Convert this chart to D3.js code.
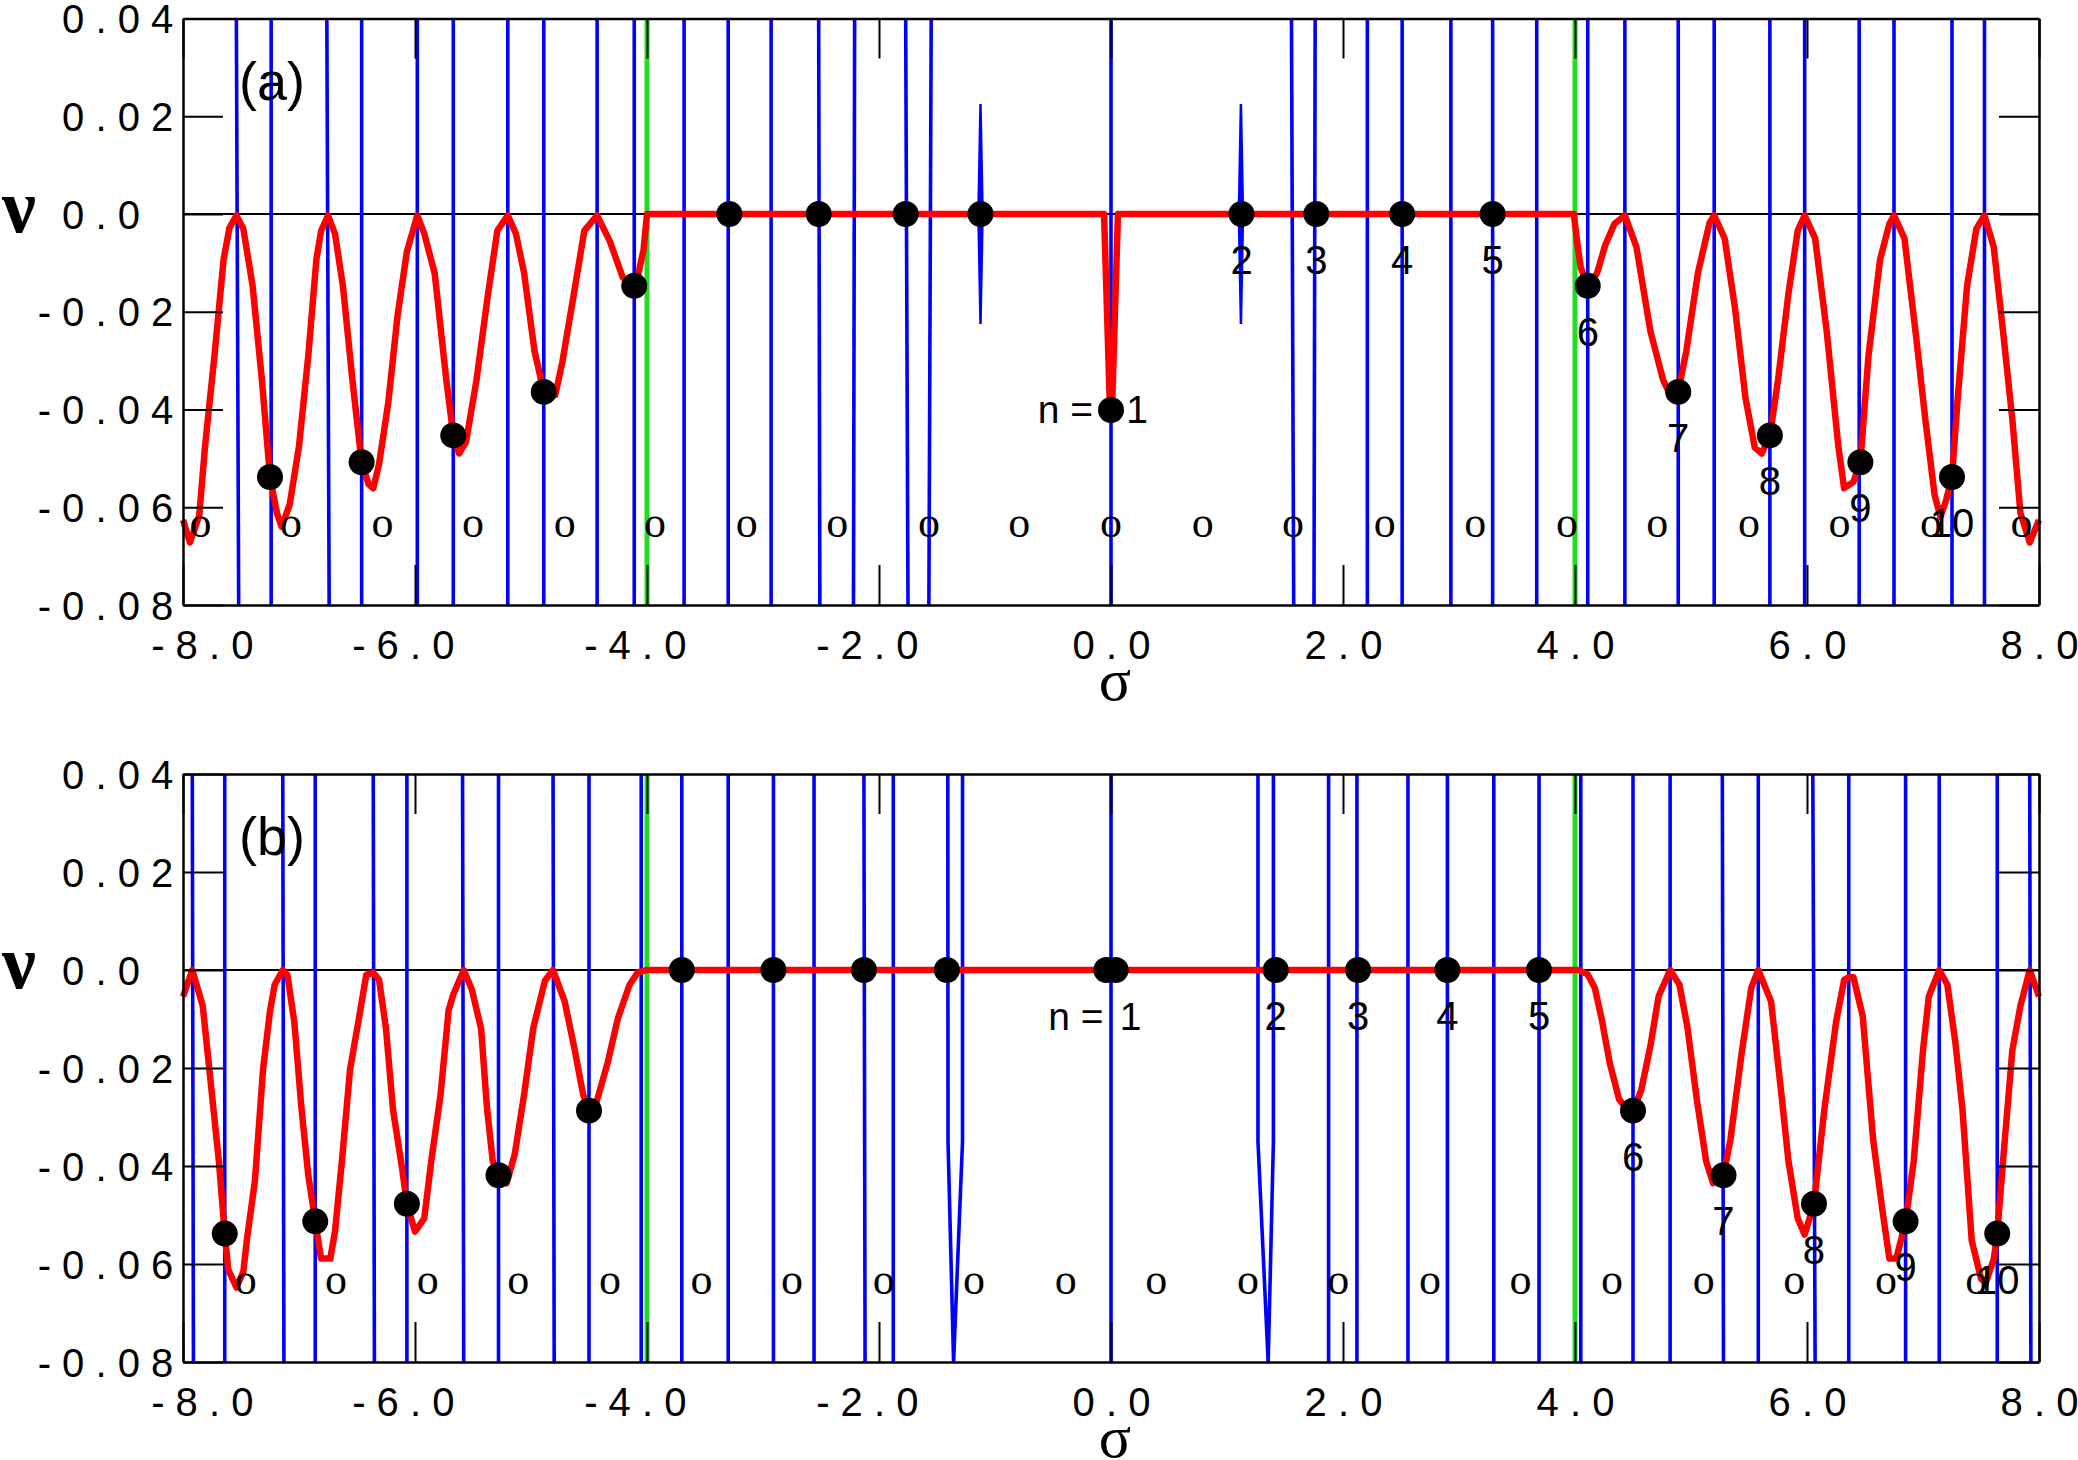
<!DOCTYPE html>
<html>
<head>
<meta charset="utf-8">
<script src="https://cdnjs.cloudflare.com/ajax/libs/d3/7.8.5/d3.min.js"></script>
<style>
  body { margin: 0; background: #fff; }
  svg { display: block; }
</style>
</head>
<body>
<svg width="2078" height="1460"></svg>
<script>
// **** data ****

var xTicks = [-8, -6, -4, -2, 0, 2, 4, 6, 8];
var xTickLabels = ["- 8 . 0", "- 6 . 0", "- 4 . 0", "- 2 . 0", "0 . 0", "2 . 0", "4 . 0", "6 . 0", "8 . 0"];
var yTicks = [0.04, 0.02, 0, -0.02, -0.04, -0.06, -0.08];
var yTickLabels = ["0 . 0 4", "0 . 0 2", "0 . 0", "- 0 . 0 2", "- 0 . 0 4", "- 0 . 0 6", "- 0 . 0 8"];

var greenLines = [-4.0, 4.0];

// blue near-vertical branches: [sigma at top, sigma at bottom]
var blueA = [[-7.54, -7.52], [-7.24, -7.24], [-6.76, -6.74], [-6.46, -6.46], [-5.98, -5.98],
  [-5.67, -5.67], [-5.20, -5.20], [-4.89, -4.89], [-4.43, -4.43], [-4.11, -4.11], [-3.68, -3.68],
  [-3.30, -3.30], [-2.93, -2.93], [-2.52, -2.51], [-2.21, -2.22], [-1.77, -1.75], [-1.55, -1.57],
  [0, 0], [1.556, 1.575], [1.76, 1.75], [2.21, 2.21], [2.51, 2.51], [2.93, 2.93], [3.29, 3.29],
  [3.67, 3.67], [4.11, 4.11], [4.43, 4.43], [4.89, 4.89], [5.20, 5.20], [5.68, 5.68], [5.98, 5.98],
  [6.45, 6.45], [6.75, 6.75], [7.25, 7.25], [7.53, 7.53]];

var blueB = [[-7.92, -7.91], [-7.64, -7.64], [-7.14, -7.13], [-6.86, -6.86], [-6.36, -6.35],
  [-6.07, -6.07], [-5.59, -5.58], [-5.28, -5.28], [-4.81, -4.80], [-4.50, -4.50], [-4.05, -4.05],
  [-3.70, -3.70], [-3.30, -3.30], [-2.91, -2.91], [-2.56, -2.56], [-2.13, -2.12], [-1.877, -1.877],
  [0, 0], [1.876, 1.876], [2.12, 2.12], [2.56, 2.56], [2.90, 2.90], [3.30, 3.30], [3.69, 3.69],
  [4.05, 4.05], [4.50, 4.50], [4.82, 4.82], [5.27, 5.28], [5.58, 5.58], [6.05, 6.07], [6.36, 6.36],
  [6.85, 6.85], [7.14, 7.14], [7.64, 7.64], [7.92, 7.93]];

// short blue spindles of panel (a): [sigma, half height]
var spindlesA = [[-1.125, 0.0225], [1.12, 0.0225]];

// V shaped blue branches of panel (b)
var vShapesB = [
  [[-1.407, 0.04], [-1.405, -0.035], [-1.357, -0.08], [-1.28, -0.035], [-1.28, 0.04]],
  [[1.267, 0.04], [1.267, -0.035], [1.355, -0.08], [1.40, -0.035], [1.40, 0.04]]
];

// red curves [sigma, nu]
var redA = [[-8.0, -0.0626], [-7.94, -0.0672], [-7.86, -0.0617], [-7.81, -0.0475], [-7.73, -0.0293],
  [-7.65, -0.0093], [-7.60, -0.0029], [-7.54, -0.0003], [-7.48, -0.003], [-7.40, -0.0147],
  [-7.32, -0.0339], [-7.25, -0.0538], [-7.19, -0.0612], [-7.15, -0.064], [-7.08, -0.0594],
  [-7.00, -0.0475], [-6.92, -0.029], [-6.85, -0.0093], [-6.81, -0.0035], [-6.75, -0.0003],
  [-6.69, -0.004], [-6.62, -0.015], [-6.54, -0.0339], [-6.46, -0.0508], [-6.40, -0.0553],
  [-6.36, -0.0561], [-6.31, -0.0512], [-6.23, -0.0385], [-6.15, -0.0207], [-6.07, -0.0077],
  [-5.98, -0.0003], [-5.92, -0.004], [-5.83, -0.0122], [-5.73, -0.034], [-5.67, -0.0453],
  [-5.62, -0.049], [-5.56, -0.0466], [-5.47, -0.034], [-5.37, -0.0163], [-5.29, -0.0034],
  [-5.20, -0.0003], [-5.13, -0.004], [-5.06, -0.012], [-4.97, -0.028], [-4.89, -0.0364],
  [-4.79, -0.037], [-4.73, -0.0303], [-4.63, -0.0163], [-4.54, -0.0034], [-4.43, -0.0003],
  [-4.32, -0.0056], [-4.21, -0.0129], [-4.13, -0.0147], [-4.08, -0.0128], [-4.03, -0.0074],
  [-4.0, 0], [-0.06, 0], [-0.01, -0.039], [0.01, -0.039], [0.06, 0], [3.99, 0],
  [4.02, -0.006], [4.05, -0.011], [4.11, -0.0147], [4.19, -0.0121], [4.26, -0.0064],
  [4.34, -0.002], [4.43, -0.0003], [4.53, -0.0068], [4.65, -0.024], [4.76, -0.034],
  [4.82, -0.037], [4.89, -0.0364], [4.96, -0.028], [5.06, -0.012], [5.16, -0.0018],
  [5.20, -0.0003], [5.29, -0.005], [5.38, -0.0194], [5.47, -0.0377], [5.55, -0.0478],
  [5.61, -0.049], [5.68, -0.0453], [5.75, -0.034], [5.84, -0.0163], [5.92, -0.0034],
  [5.98, -0.0003], [6.07, -0.005], [6.17, -0.024], [6.27, -0.0475], [6.32, -0.0561],
  [6.40, -0.0548], [6.46, -0.0508], [6.53, -0.029], [6.63, -0.0093], [6.71, -0.002],
  [6.75, -0.0003], [6.84, -0.005], [6.94, -0.025], [7.02, -0.042], [7.10, -0.0575],
  [7.15, -0.062], [7.20, -0.0585], [7.25, -0.0538], [7.30, -0.0375], [7.38, -0.0147],
  [7.46, -0.003], [7.53, -0.0003], [7.61, -0.0068], [7.69, -0.024], [7.77, -0.042],
  [7.84, -0.0612], [7.92, -0.0672], [8.0, -0.0626]];

var redB = [[-8.0, -0.0054], [-7.92, 0], [-7.83, -0.0073], [-7.75, -0.0255], [-7.69, -0.0392],
  [-7.64, -0.0538], [-7.61, -0.0611], [-7.54, -0.0648], [-7.48, -0.0616], [-7.45, -0.0552],
  [-7.38, -0.043], [-7.31, -0.0203], [-7.25, -0.0084], [-7.21, -0.003], [-7.14, 0],
  [-7.10, -0.001], [-7.04, -0.0107], [-6.98, -0.0279], [-6.92, -0.0419], [-6.86, -0.0513],
  [-6.81, -0.0589], [-6.73, -0.0589], [-6.69, -0.0534], [-6.63, -0.039], [-6.56, -0.0203],
  [-6.48, -0.0094], [-6.42, -0.001], [-6.36, -0.0005], [-6.31, -0.002], [-6.25, -0.012],
  [-6.19, -0.0284], [-6.11, -0.0407], [-6.07, -0.0477], [-6.0, -0.0534], [-5.92, -0.0507],
  [-5.86, -0.039], [-5.78, -0.0255], [-5.71, -0.0082], [-5.67, -0.005], [-5.58, 0],
  [-5.51, -0.004], [-5.43, -0.012], [-5.38, -0.028], [-5.33, -0.039], [-5.28, -0.0419],
  [-5.21, -0.0435], [-5.14, -0.0376], [-5.06, -0.0255], [-4.98, -0.0118], [-4.88, -0.0022],
  [-4.81, 0], [-4.71, -0.0064], [-4.63, -0.0155], [-4.55, -0.0255], [-4.50, -0.0287],
  [-4.45, -0.0282], [-4.34, -0.019], [-4.25, -0.0098], [-4.15, -0.003], [-4.08, -0.0005],
  [-4.0, 0], [4.03, 0], [4.11, -0.0009], [4.17, -0.0036], [4.23, -0.01], [4.30, -0.019],
  [4.38, -0.0264], [4.44, -0.0282], [4.50, -0.0287], [4.57, -0.0246], [4.65, -0.0155],
  [4.72, -0.0054], [4.82, 0], [4.90, -0.003], [4.97, -0.0118], [5.05, -0.0264], [5.13, -0.039],
  [5.19, -0.0435], [5.28, -0.0419], [5.34, -0.0346], [5.44, -0.0164], [5.52, -0.0036],
  [5.58, 0], [5.69, -0.0064], [5.78, -0.0255], [5.84, -0.039], [5.92, -0.0507], [5.98, -0.054],
  [6.06, -0.0477], [6.15, -0.0284], [6.25, -0.0107], [6.32, -0.002], [6.36, -0.0015],
  [6.40, -0.0015], [6.48, -0.0094], [6.57, -0.0346], [6.65, -0.049], [6.71, -0.0589],
  [6.77, -0.0589], [6.85, -0.0513], [6.92, -0.039], [7.0, -0.0164], [7.05, -0.0054],
  [7.14, 0], [7.21, -0.003], [7.28, -0.015], [7.34, -0.0284], [7.42, -0.0552], [7.50, -0.063],
  [7.54, -0.0639], [7.61, -0.059], [7.64, -0.0538], [7.69, -0.039], [7.77, -0.0164],
  [7.84, -0.0073], [7.92, 0], [8.0, -0.0054]];

// black dots and their labels
var dotSigmaA = [-7.25, -6.46, -5.67, -4.89, -4.11, -3.29, -2.52, -1.77, -1.125, 0,
  1.125, 1.77, 2.51, 3.29, 4.11, 4.89, 5.68, 6.46, 7.25];
var dotNuA = [-0.0538, -0.0508, -0.0453, -0.0364, -0.0147, 0, 0, 0, 0, -0.0401,
  0, 0, 0, 0, -0.0147, -0.0364, -0.0453, -0.0508, -0.0538];
var dotLabelA = ["", "", "", "", "", "", "", "", "", "1", "2", "3", "4", "5", "6", "7", "8", "9", "10"];

var dotSigmaB = [-7.64, -6.86, -6.07, -5.28, -4.50, -3.70, -2.91, -2.13, -1.415, -0.04,
  0.04, 1.42, 2.13, 2.90, 3.69, 4.50, 5.28, 6.06, 6.85, 7.64];
var dotNuB = [-0.0538, -0.0513, -0.0477, -0.0419, -0.0287, 0, 0, 0, 0, 0,
  0, 0, 0, 0, 0, -0.0287, -0.0419, -0.0477, -0.0513, -0.0538];
var dotLabelB = ["", "", "", "", "", "", "", "", "", "", "1", "2", "3", "4", "5", "6", "7", "8", "9", "10"];

// rows of "o" marks
var oNu = -0.064;
var oSigmaA = [-7.85, -7.07, -6.28, -5.50, -4.71, -3.93, -3.14, -2.36, -1.57, -0.79, 0,
  0.79, 1.57, 2.36, 3.14, 3.93, 4.71, 5.50, 6.28, 7.07, 7.85];
var oSigmaB = [-7.46, -6.68, -5.89, -5.11, -4.32, -3.53, -2.75, -1.96, -1.18, -0.39,
  0.39, 1.18, 1.96, 2.75, 3.53, 4.32, 5.11, 5.89, 6.68, 7.46];

var panelNames = ["(a)", "(b)"];

// **** drawing ****

var sans = "'Liberation Sans', Arial, Helvetica, sans-serif";
var serif = "'Liberation Serif', 'Times New Roman', serif";

var svg = d3.select("svg");
var xScale = d3.scaleLinear().domain([-8, 8]).range([183, 2039]);

var panels = [
  { top: 18.5, bottom: 605, name: panelNames[0], blue: blueA, red: redA,
    dotS: dotSigmaA, dotN: dotNuA, dotL: dotLabelA, oS: oSigmaA,
    nEq: { dx: -18, dy: 0, oneDx: 26 } },
  { top: 774, bottom: 1362, name: panelNames[1], blue: blueB, red: redB,
    dotS: dotSigmaB, dotN: dotNuB, dotL: dotLabelB, oS: oSigmaB,
    nEq: { dx: -12, dy: 47, oneDx: 15 } }
];

// put the decimal point of a label at the given x
function alignOnPoint(sel, px) {
  sel.attr("text-anchor", "start").each(function(d, i) {
    var s = this.textContent;
    var k = s.indexOf(".");
    var before = this.getSubStringLength(0, k);
    var w = this.getSubStringLength(k, 1);
    d3.select(this).attr("x", px(d, i) - before - w / 2);
  });
}

panels.forEach(function(p, pi) {
  var yScale = d3.scaleLinear().domain([-0.08, 0.04]).range([p.bottom, p.top]);
  var g = svg.append("g");

  // zero line
  g.append("line")
    .attr("x1", xScale(-8)).attr("x2", xScale(8))
    .attr("y1", yScale(0)).attr("y2", yScale(0))
    .attr("stroke", "#000").attr("stroke-width", 2);

  // blue branches
  g.selectAll(".blue").data(p.blue).enter().append("line")
    .attr("x1", function(d) { return xScale(d[0]); })
    .attr("y1", yScale(0.04))
    .attr("x2", function(d) { return xScale(d[1]); })
    .attr("y2", yScale(-0.08))
    .attr("stroke", "#0000ff").attr("stroke-width", 3.6);

  var line = d3.line()
    .x(function(d) { return xScale(d[0]); })
    .y(function(d) { return yScale(d[1]); });

  if (pi === 0) {
    g.selectAll(".spindle").data(spindlesA).enter().append("path")
      .attr("d", function(d) {
        return line([[d[0], d[1]], [d[0] + 0.018, 0], [d[0], -d[1]], [d[0] - 0.018, 0]]) + "Z";
      })
      .attr("fill", "#0000ff").attr("stroke", "#0000ff").attr("stroke-width", 2.5);
  } else {
    g.selectAll(".vshape").data(vShapesB).enter().append("path")
      .attr("d", line)
      .attr("fill", "none").attr("stroke", "#0000ff").attr("stroke-width", 3.6);
  }

  // green lines
  g.selectAll(".green").data(greenLines).enter().append("line")
    .attr("x1", function(d) { return xScale(d); })
    .attr("x2", function(d) { return xScale(d); })
    .attr("y1", yScale(0.04)).attr("y2", yScale(-0.08))
    .attr("stroke", "#22dd22").attr("stroke-width", 5);

  // red curve
  g.append("path").datum(p.red)
    .attr("d", line)
    .attr("fill", "none").attr("stroke", "#ff0000")
    .attr("stroke-width", 6.5).attr("stroke-linejoin", "round");

  // "o" marks
  g.selectAll(".omark").data(p.oS).enter().append("text")
    .attr("x", function(d) { return xScale(d); })
    .attr("y", yScale(oNu) + 10)
    .attr("text-anchor", "middle")
    .attr("font-family", serif).attr("font-size", 44)
    .text("o");

  // dots
  g.selectAll(".dot").data(p.dotS).enter().append("circle")
    .attr("cx", function(d) { return xScale(d); })
    .attr("cy", function(d, i) { return yScale(p.dotN[i]); })
    .attr("r", 13).attr("fill", "#000");

  // dot labels
  p.dotS.forEach(function(s, i) {
    var lab = p.dotL[i];
    if (!lab) return;
    var cx = xScale(s), cy = yScale(p.dotN[i]);
    if (lab === "1") {
      g.append("text")
        .attr("x", cx + p.nEq.dx).attr("y", cy + p.nEq.dy + 13)
        .attr("text-anchor", "end")
        .attr("font-family", sans).attr("font-size", 39)
        .text("n =");
      g.append("text")
        .attr("x", cx + p.nEq.oneDx).attr("y", cy + p.nEq.dy + 13)
        .attr("text-anchor", "middle")
        .attr("font-family", sans).attr("font-size", 39)
        .text(lab);
    } else {
      g.append("text")
        .attr("x", cx).attr("y", cy + 60)
        .attr("text-anchor", "middle")
        .attr("font-family", sans).attr("font-size", 40)
        .text(lab);
    }
  });

  // panel name
  g.append("text")
    .attr("x", 239).attr("y", p.top + 81)
    .attr("font-family", sans).attr("font-size", 54)
    .text(p.name);

  // axes
  var bottomAxis = g.append("g")
    .attr("transform", "translate(0," + p.bottom + ")")
    .call(d3.axisBottom(xScale).tickValues(xTicks).tickSize(-40).tickSizeOuter(0)
      .tickFormat(function(d, i) { return xTickLabels[i]; }));
  var topAxis = g.append("g")
    .attr("transform", "translate(0," + p.top + ")")
    .call(d3.axisTop(xScale).tickValues(xTicks).tickSize(-40).tickSizeOuter(0).tickFormat(""));
  var leftAxis = g.append("g")
    .attr("transform", "translate(" + xScale(-8) + ",0)")
    .call(d3.axisLeft(yScale).tickValues(yTicks).tickSize(-40).tickSizeOuter(0)
      .tickFormat(function(d, i) { return yTickLabels[i]; }));
  var rightAxis = g.append("g")
    .attr("transform", "translate(" + xScale(8) + ",0)")
    .call(d3.axisRight(yScale).tickValues(yTicks).tickSize(-40).tickSizeOuter(0).tickFormat(""));

  [bottomAxis, topAxis, leftAxis, rightAxis].forEach(function(a) {
    a.attr("font-family", sans).attr("font-size", 40);
    a.select(".domain").attr("stroke", "#000").attr("stroke-width", 2.5);
    a.selectAll(".tick line").attr("stroke", "#000").attr("stroke-width", 2);
    a.selectAll(".tick text").attr("fill", "#000");
  });

  bottomAxis.selectAll(".tick text").attr("y", 54).attr("dy", null);
  alignOnPoint(bottomAxis.selectAll(".tick text"), function(d, i) { return i === 0 ? 31 : 0; });

  leftAxis.selectAll(".tick text").attr("y", 14).attr("dy", null);
  alignOnPoint(leftAxis.selectAll(".tick text"), function() { return 101 - xScale(-8); });

  // axis titles
  g.append("text")
    .attr("x", 19).attr("y", yScale(0) + 18)
    .attr("text-anchor", "middle")
    .attr("font-family", serif).attr("font-weight", "bold").attr("font-size", 76)
    .text("ν");
  g.append("text")
    .attr("x", 1115).attr("y", p.bottom + 95)
    .attr("text-anchor", "middle")
    .attr("font-family", serif).attr("font-size", 60)
    .text("σ");
});
</script>
</body>
</html>
